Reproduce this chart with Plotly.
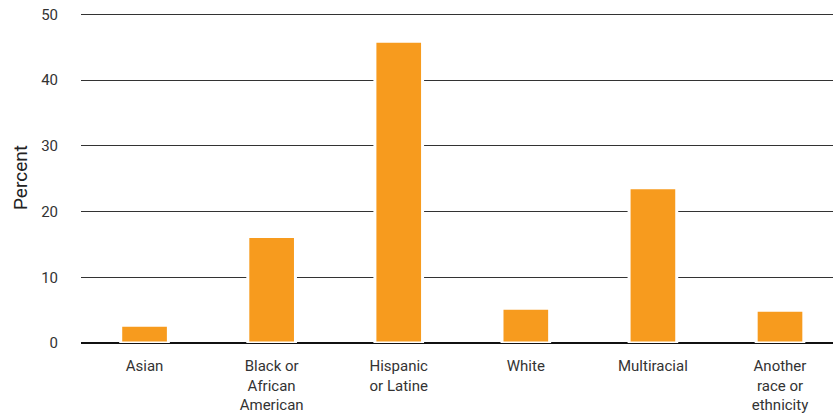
import plotly.graph_objects as go

categories = ["Asian", "Black or<br>African<br>American", "Hispanic<br>or Latine", "White",
              "Multiracial", "Another<br>race or<br>ethnicity"]
percent = [2.7, 16.2, 45.9, 5.3, 23.6, 5.0]
y_ticks = [0, 10, 20, 30, 40, 50]

L, R, T, B = 81, 0, 13, 73
W, H = 833, 416
plot_w = W - L - R

fig = go.Figure(go.Bar(
    x=list(range(len(categories))),
    y=percent,
    width=0.375,
    marker=dict(color="#F79B1E", line=dict(color="white", width=3)),
    hoverinfo="skip",
))

fig.update_layout(
    width=W, height=H,
    margin=dict(l=L, r=R, t=T, b=B, autoexpand=False),
    paper_bgcolor="white", plot_bgcolor="white",
    font=dict(family="Roboto", size=15, color="#333333"),
    showlegend=False,
    annotations=[dict(
        text="Percent", textangle=-90, xref="paper", yref="paper",
        x=(20 - L) / plot_w, y=0.5, xanchor="center", yanchor="middle",
        showarrow=False, font=dict(size=19, color="#222222"),
    )],
)
fig.update_xaxes(
    tickmode="array", tickvals=list(range(len(categories))), ticktext=categories,
    range=[-0.5, 5.417], showgrid=False, zeroline=False, showline=False,
    ticks="", ticklabelstandoff=12, automargin=False,
    tickfont=dict(size=15, color="#333333"),
)
fig.update_yaxes(
    range=[0, 50.2], tickvals=y_ticks, showgrid=True, gridcolor="#333333", gridwidth=1,
    zeroline=True, zerolinecolor="#111111", zerolinewidth=2,
    ticks="", ticklabelstandoff=22, automargin=False,
    tickfont=dict(size=15, color="#333333"),
)

fig.write_html("out.html", config={"displayModeBar": False},
               post_script="document.body.style.margin='0px';")
